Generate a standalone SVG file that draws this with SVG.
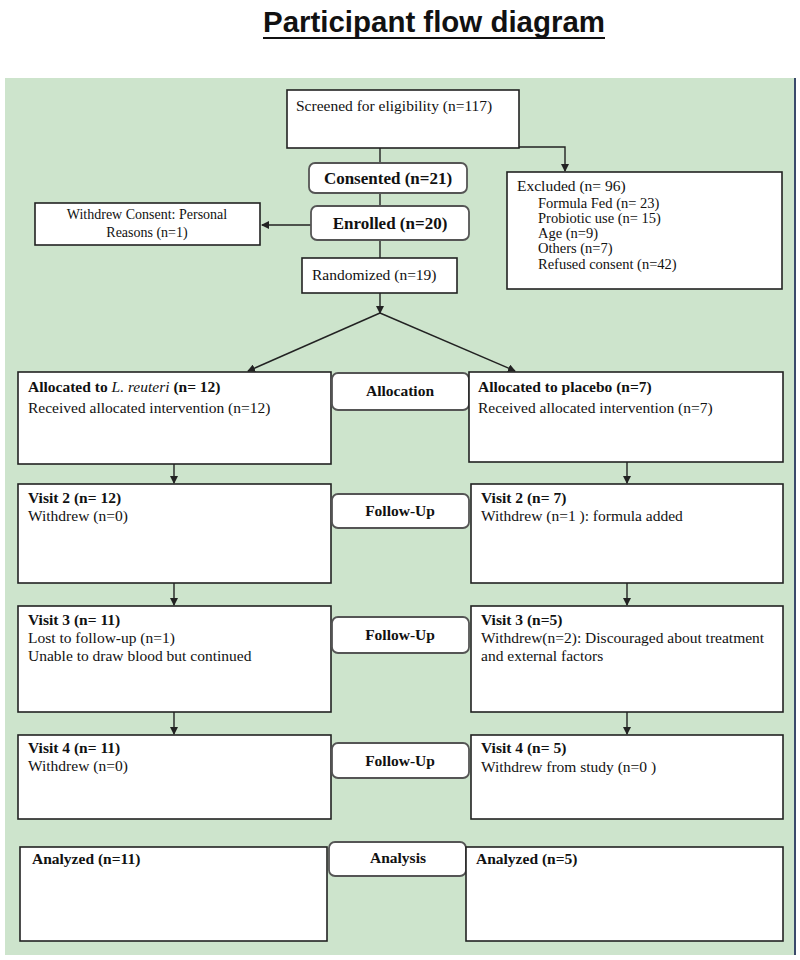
<svg xmlns="http://www.w3.org/2000/svg" width="800" height="960" viewBox="0 0 800 960">
<style>
.box{fill:#fff;stroke:#222;stroke-width:1.6}
.rbox{fill:#fff;stroke:#555;stroke-width:1.8}
.t{font-family:"Liberation Serif","Times New Roman",serif;font-size:15.5px;fill:#111}
.s{font-family:"Liberation Serif","Times New Roman",serif;font-size:14.5px;fill:#111}
.w{font-family:"Liberation Serif","Times New Roman",serif;font-size:14px;fill:#111;text-anchor:middle}
.b{font-family:"Liberation Serif","Times New Roman",serif;font-size:15.5px;font-weight:bold;fill:#111}
.bc{font-family:"Liberation Serif","Times New Roman",serif;font-size:17px;font-weight:bold;fill:#111;text-anchor:middle}
.bs{font-family:"Liberation Serif","Times New Roman",serif;font-size:15.5px;font-weight:bold;fill:#111;text-anchor:middle}
.ln{stroke:#222;stroke-width:1.4;fill:none}
</style>
<defs>
<marker id="ah" markerWidth="8" markerHeight="8" refX="7" refY="4" orient="auto" markerUnits="userSpaceOnUse">
<path d="M0,0 L8,4 L0,8 z" fill="#222"/>
</marker>
</defs>
<rect x="0" y="0" width="800" height="960" fill="#fff"/>
<g id="title">
<text x="434" y="32" font-family="Liberation Sans, Arial, sans-serif" font-size="29" font-weight="bold" text-anchor="middle" textLength="342" lengthAdjust="spacingAndGlyphs" fill="#111">Participant flow diagram</text>
<line x1="263" y1="38" x2="605" y2="38" stroke="#111" stroke-width="2"/>
</g>
<rect x="5" y="78" width="790" height="877" fill="#cde4cc"/>
<line x1="795" y1="78" x2="795" y2="955" stroke="#3a4a6a" stroke-width="2"/>

<g id="connectors">
<polyline class="ln" points="519,147 565,147 565,171" marker-end="url(#ah)"/>
<line class="ln" x1="380" y1="148" x2="380" y2="258"/>
<line class="ln" x1="311" y1="225" x2="262" y2="225" marker-end="url(#ah)"/>
<line class="ln" x1="380" y1="293" x2="380" y2="313" marker-end="url(#ah)"/>
<line class="ln" x1="380" y1="313" x2="248" y2="371" marker-end="url(#ah)"/>
<line class="ln" x1="380" y1="313" x2="515" y2="371" marker-end="url(#ah)"/>
<line class="ln" x1="174" y1="464" x2="174" y2="483" marker-end="url(#ah)"/>
<line class="ln" x1="627" y1="462" x2="627" y2="483" marker-end="url(#ah)"/>
<line class="ln" x1="174" y1="583" x2="174" y2="605" marker-end="url(#ah)"/>
<line class="ln" x1="627" y1="583" x2="627" y2="605" marker-end="url(#ah)"/>
<line class="ln" x1="174" y1="712" x2="174" y2="734" marker-end="url(#ah)"/>
<line class="ln" x1="627" y1="712" x2="627" y2="734" marker-end="url(#ah)"/>
</g>

<g id="screened">
<rect class="box" x="287" y="90" width="232" height="58"/>
<text class="t" x="296" y="111">Screened for eligibility (n=117)</text>
</g>
<g id="consented">
<rect class="rbox" x="309" y="163" width="158" height="30" rx="6"/>
<text class="bc" x="388" y="184">Consented (n=21)</text>
</g>
<g id="enrolled">
<rect class="rbox" x="311" y="206" width="158" height="34" rx="6"/>
<text class="bc" x="390" y="229">Enrolled (n=20)</text>
</g>
<g id="withdrew-consent">
<rect class="box" x="35" y="203" width="225" height="42"/>
<text class="w" x="147" y="219">Withdrew Consent: Personal</text>
<text class="w" x="147" y="237">Reasons (n=1)</text>
</g>
<g id="excluded">
<rect class="box" x="507" y="172" width="275" height="117"/>
<text class="t" x="517" y="191">Excluded (n= 96)</text>
<text class="s" x="538" y="208">Formula Fed (n= 23)</text>
<text class="s" x="538" y="223">Probiotic use (n= 15)</text>
<text class="s" x="538" y="238">Age (n=9)</text>
<text class="s" x="538" y="253">Others (n=7)</text>
<text class="s" x="538" y="269">Refused consent (n=42)</text>
</g>
<g id="randomized">
<rect class="box" x="302" y="258" width="155" height="35"/>
<text class="t" x="312" y="280">Randomized (n=19)</text>
</g>

<g id="alloc-left">
<rect class="box" x="18" y="372" width="313" height="92"/>
<text class="b" x="28" y="392">Allocated to <tspan font-style="italic" font-weight="normal">L. reuteri</tspan> (n= 12)</text>
<text class="t" x="28" y="413">Received allocated intervention (n=12)</text>
</g>
<g id="allocation">
<rect class="rbox" x="332" y="373" width="137" height="37" rx="6"/>
<text class="bs" x="400" y="396">Allocation</text>
</g>
<g id="alloc-right">
<rect class="box" x="469" y="372" width="314" height="90"/>
<text class="b" x="478" y="392">Allocated to placebo (n=7)</text>
<text class="t" x="478" y="413">Received allocated intervention (n=7)</text>
</g>

<g id="visit2-left">
<rect class="box" x="18" y="484" width="313" height="99"/>
<text class="b" x="28" y="503">Visit 2 (n= 12)</text>
<text class="t" x="28" y="521">Withdrew (n=0)</text>
</g>
<g id="followup1">
<rect class="rbox" x="332" y="494" width="137" height="34" rx="6"/>
<text class="bs" x="400" y="516">Follow-Up</text>
</g>
<g id="visit2-right">
<rect class="box" x="471" y="484" width="312" height="99"/>
<text class="b" x="481" y="503">Visit 2 (n= 7)</text>
<text class="t" x="481" y="521">Withdrew (n=1 ): formula added</text>
</g>

<g id="visit3-left">
<rect class="box" x="18" y="606" width="313" height="106"/>
<text class="b" x="28" y="625">Visit 3 (n= 11)</text>
<text class="t" x="28" y="643">Lost to follow-up (n=1)</text>
<text class="t" x="28" y="661">Unable to draw blood but continued</text>
</g>
<g id="followup2">
<rect class="rbox" x="332" y="617" width="137" height="36" rx="6"/>
<text class="bs" x="400" y="640">Follow-Up</text>
</g>
<g id="visit3-right">
<rect class="box" x="471" y="606" width="312" height="106"/>
<text class="b" x="481" y="625">Visit 3 (n=5)</text>
<text class="t" x="481" y="643">Withdrew(n=2): Discouraged about treatment</text>
<text class="t" x="481" y="661">and external factors</text>
</g>

<g id="visit4-left">
<rect class="box" x="18" y="735" width="313" height="84"/>
<text class="b" x="28" y="753">Visit 4 (n= 11)</text>
<text class="t" x="28" y="771">Withdrew (n=0)</text>
</g>
<g id="followup3">
<rect class="rbox" x="332" y="743" width="137" height="35" rx="6"/>
<text class="bs" x="400" y="766">Follow-Up</text>
</g>
<g id="visit4-right">
<rect class="box" x="471" y="735" width="312" height="84"/>
<text class="b" x="481" y="753">Visit 4 (n= 5)</text>
<text class="t" x="481" y="772">Withdrew from study  (n=0 )</text>
</g>

<g id="analyzed-left">
<rect class="box" x="20" y="847" width="307" height="94"/>
<text class="b" x="32" y="864">Analyzed (n=11)</text>
</g>
<g id="analysis">
<rect class="rbox" x="329" y="842" width="137" height="34" rx="6"/>
<text class="bs" x="398" y="863">Analysis</text>
</g>
<g id="analyzed-right">
<rect class="box" x="466" y="847" width="317" height="94"/>
<text class="b" x="476" y="864">Analyzed (n=5)</text>
</g>
</svg>
